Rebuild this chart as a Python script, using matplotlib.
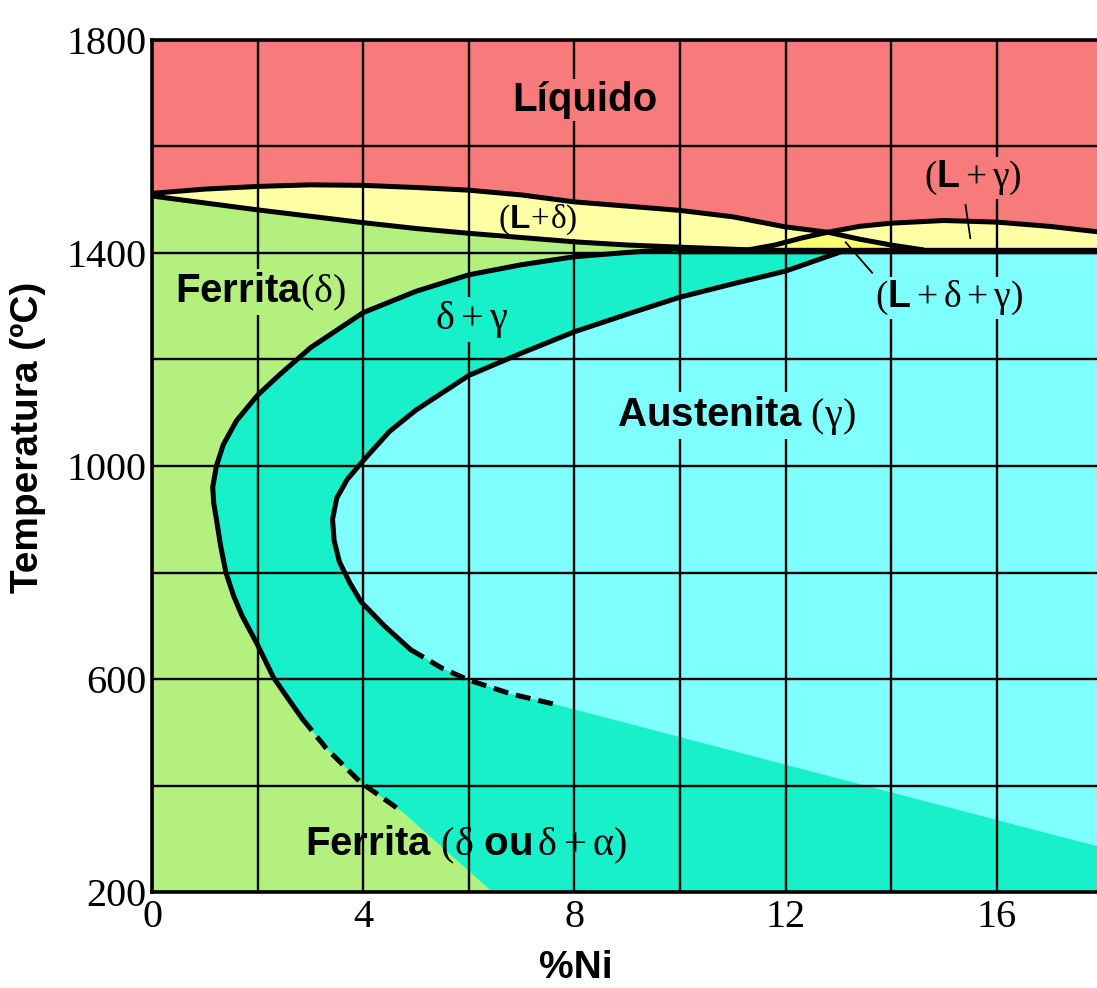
import numpy as np
import matplotlib
matplotlib.use("Agg")
import matplotlib.pyplot as plt

# ── Fonts: bold sans for words, serif for greek / brackets ─────
plt.rcParams["mathtext.fontset"] = "custom"
plt.rcParams["mathtext.rm"] = "Liberation Serif"
plt.rcParams["mathtext.it"] = "Liberation Serif"
plt.rcParams["mathtext.bf"] = "Liberation Sans:bold"

# ── Phase boundaries (%Ni, ºC) ─────────────────────────────────
# liquidus of delta (L / L+delta), continues down to the gamma solidus
liq_d_x = [0, 1, 2, 3, 4, 5, 6, 7, 8, 9, 10, 11, 12, 12.8, 13.4, 14, 14.6]
liq_d_t = [1512, 1520, 1525, 1528, 1527, 1523, 1518, 1509, 1496, 1488,
           1480, 1468, 1449, 1439, 1426, 1415, 1406]

# solidus of delta (L+delta / delta)
sol_d_x = [0, 1, 2, 3, 4, 5, 6, 7, 8, 9, 10, 11.3]
sol_d_t = [1507, 1494, 1481, 1469, 1457, 1446, 1437, 1429, 1421, 1415, 1411, 1406]

# liquidus of gamma (L / L+gamma)
liq_g_x = [11.3, 11.8, 12.3, 12.8, 13.4, 14, 15, 16, 17, 17.9]
liq_g_t = [1406, 1415, 1428, 1439, 1450, 1456, 1461, 1458, 1450, 1440]

sol_g_t = 1404       # flat gamma solidus
sol_g_x = [10.0, 17.9]

# delta / delta+gamma (outer nose), solid then dashed part
outer_x = [10.0, 9, 8, 7, 6, 5, 4, 3, 2.4, 2.0, 1.6, 1.35, 1.22, 1.15, 1.17,
           1.22, 1.3, 1.4, 1.55, 1.7, 2.0, 2.3, 2.6, 2.85]
outer_t = [1408, 1401, 1393, 1378, 1359, 1328, 1288, 1222, 1170, 1133, 1085,
           1040, 1000, 960, 930, 900, 850, 800, 755, 720, 664, 603, 560, 525]
outer_dash_x = [2.85, 3.3, 3.95, 4.35, 4.75]
outer_dash_t = [525, 470, 406, 378, 350]

# delta+gamma / gamma (inner nose), solid then dashed part
inner_x = [13.1, 12, 11, 10, 9, 8, 7, 6, 5, 4.5, 4.0, 3.7, 3.5, 3.42, 3.45,
           3.55, 3.75, 3.96, 4.4, 4.9]
inner_t = [1404, 1366, 1342, 1317, 1285, 1252, 1212, 1170, 1105, 1065, 1010,
           975, 940, 900, 860, 820, 780, 745, 700, 655]
inner_dash_x = [4.9, 5.5, 6.0, 6.8, 7.65]
inner_dash_t = [655, 620, 598, 572, 552]

# low temperature edges of the coloured fields (no line drawn)
ferr_edge_x = [4.75, 6.45]
ferr_edge_t = [350, 200]
aus_edge_x = [7.65, 17.9]
aus_edge_t = [552, 286]

# leader lines
lead_lg_x, lead_lg_t = [15.41, 15.5], [1490, 1428]
lead_ldg_x, lead_ldg_t = [13.14, 13.64], [1420, 1363]

X_MAX = 17.9

C_RED = "#F77B7B"
C_YEL = "#FFFFA6"
C_YEL2 = "#FFFF70"
C_GRN = "#B3F07D"
C_TEAL = "#17F0C8"
C_CYAN = "#80FFFF"

fig = plt.figure(figsize=(10.97, 9.88), dpi=100)
ax = fig.add_axes([152 / 1097, 96 / 988, 945 / 1097, 852 / 988])
ax.set_facecolor(C_CYAN)
ax.set_xlim(0, X_MAX)
ax.set_ylim(200, 1800)

# ── Fields ─────────────────────────────────────────────────────
ax.fill_between([0, X_MAX], 1400, 1800, color=C_RED, lw=0, zorder=0.2)

# ferrite
g_top = [(x, t) for x, t in zip(sol_d_x, sol_d_t) if x <= 10]
g_nose = list(zip(outer_x, outer_t)) + list(zip(outer_dash_x, outer_dash_t))[1:]
green = [(0, 200)] + g_top + g_nose + [(ferr_edge_x[1], ferr_edge_t[1])]
ax.fill(*zip(*green), color=C_GRN, lw=0, zorder=0.4)

# L + delta
i_c = liq_d_x.index(12.8)
j_c = liq_g_x.index(12.8)
upper = list(zip(liq_d_x[:i_c + 1], liq_d_t[:i_c + 1]))
lower = list(zip(sol_d_x, sol_d_t)) + list(zip(liq_g_x[1:j_c + 1], liq_g_t[1:j_c + 1]))
ax.fill(*zip(*(upper + lower[::-1])), color=C_YEL, lw=0, zorder=0.4)

# L + delta + gamma lens
lens = (list(zip(liq_g_x[:j_c + 1], liq_g_t[:j_c + 1]))
        + list(zip(liq_d_x[i_c + 1:], liq_d_t[i_c + 1:]))
        + [(liq_d_x[-1], sol_g_t), (liq_g_x[0], sol_g_t)])
ax.fill(*zip(*lens), color=C_YEL2, lw=0, zorder=0.4)

# L + gamma
lg = (list(zip(liq_g_x[j_c:], liq_g_t[j_c:])) + [(X_MAX, sol_g_t)]
      + list(zip(liq_d_x[i_c:], liq_d_t[i_c:]))[::-1])
ax.fill(*zip(*lg), color=C_YEL, lw=0, zorder=0.4)

# delta + gamma
teal = (g_nose + [(ferr_edge_x[1], ferr_edge_t[1]), (X_MAX, 200),
                  (aus_edge_x[1], aus_edge_t[1])]
        + list(zip(inner_dash_x, inner_dash_t))[::-1]
        + list(zip(inner_x, inner_t))[::-1] + [(outer_x[0], sol_g_t)])
ax.fill(*zip(*teal), color=C_TEAL, lw=0, zorder=0.4)

# ── Boundary lines ─────────────────────────────────────────────
kw = dict(color="black", lw=3.6, solid_capstyle="round", zorder=3)
ax.plot(liq_d_x, liq_d_t, **kw)
ax.plot(sol_d_x, sol_d_t, **kw)
ax.plot(liq_g_x, liq_g_t, **kw)
ax.plot(sol_g_x, [sol_g_t, sol_g_t], color="black", lw=4.6, zorder=3)
ax.plot(outer_x, outer_t, **kw)
ax.plot(inner_x, inner_t, **kw)
ax.plot(outer_dash_x, outer_dash_t, color="black", lw=3.6, dashes=(3, 1.6), zorder=3)
ax.plot(inner_dash_x, inner_dash_t, color="black", lw=3.6, dashes=(3, 1.6), zorder=3)
ax.plot(lead_lg_x, lead_lg_t, color="black", lw=1.3, zorder=3)
ax.plot(lead_ldg_x, lead_ldg_t, color="black", lw=1.3, zorder=3)

# ── Grid, ticks, spines ────────────────────────────────────────
ax.set_xticks([0, 4, 8, 12, 16])
ax.set_xticks([2, 6, 10, 14], minor=True)
ax.set_yticks([200, 600, 1000, 1400, 1800])
ax.set_yticks([400, 800, 1200, 1600], minor=True)
ax.set_axisbelow("line")
ax.grid(which="both", color="black", lw=1.7)
ax.tick_params(which="both", length=0)
ax.tick_params(axis="y", pad=4)
ax.tick_params(axis="x", pad=5)
for lab in ax.get_xticklabels() + ax.get_yticklabels():
    lab.set_fontfamily("Liberation Serif")
    lab.set_fontsize(29)
for side in ["left", "top", "bottom"]:
    ax.spines[side].set_linewidth(2.6)
ax.spines["right"].set_visible(False)

fig.text(28 / 1097, 1 - 437 / 988, "Temperatura (ºC)", rotation=90,
         ha="center", va="center", fontfamily="Liberation Sans",
         fontweight="bold", fontsize=28)
fig.text(576 / 1097, 1 - 968 / 988, "%Ni", ha="center", va="center",
         fontfamily="Liberation Sans", fontweight="bold", fontsize=28)

# ── Field labels ───────────────────────────────────────────────
def label(x, t, s, bg=None, size=29):
    kw = dict(ha="center", va="center", fontsize=size, zorder=2)
    if bg is not None:
        kw["bbox"] = dict(boxstyle="square,pad=0.05", fc=bg, ec="none")
    return ax.text(x, t, s, **kw)

txt = label(8.19, 1687, "Líquido", C_RED)
txt.set_fontfamily("Liberation Sans")
txt.set_fontweight("bold")
label(7.3, 1462, r"$(\mathbf{L}\!+\!\delta)$", C_YEL, size=24)
label(2.05, 1327, r"$\mathbf{Ferrita}(\delta)$", C_GRN)
label(6.05, 1275, r"$\delta+\gamma$", C_TEAL)
label(11.07, 1095, r"$\mathbf{Austenita}\ (\gamma)$", C_CYAN)
label(15.55, 1541, r"$(\mathbf{L}+\gamma)$", C_RED, size=27)
label(15.1, 1315, r"$(\mathbf{L}+\delta+\gamma)$", C_CYAN, size=27)
label(5.95, 288, r"$\mathbf{Ferrita}\ (\delta\ \mathbf{ou}\,\delta+\alpha)$")

fig.savefig("out.png", dpi=100)
